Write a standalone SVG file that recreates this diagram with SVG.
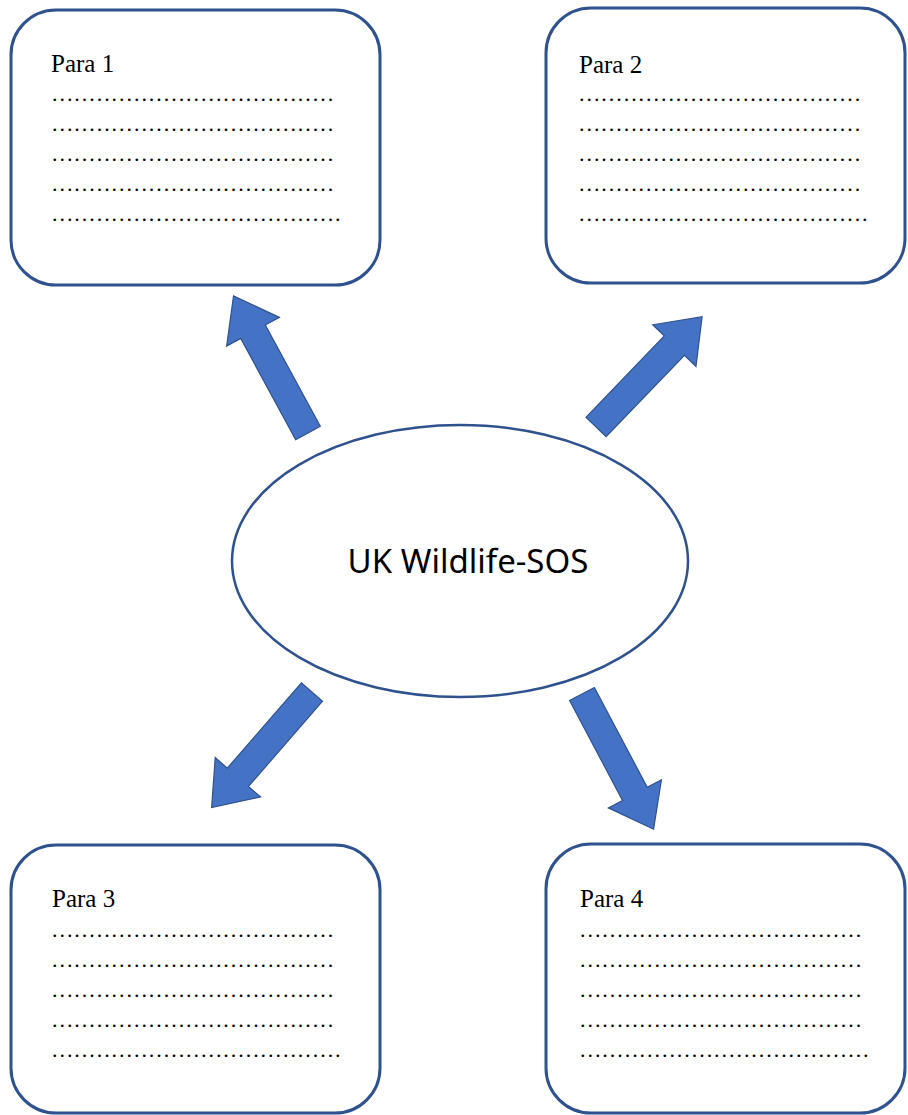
<svg xmlns="http://www.w3.org/2000/svg" width="908" height="1115" viewBox="0 0 908 1115">
<style>
.box{fill:#ffffff;stroke:#2F528F;stroke-width:3}
.hd{font-family:"Liberation Serif","Times New Roman",serif;font-size:25px;fill:#000}
.dots{font-family:"Liberation Serif","Times New Roman",serif;font-size:22px;letter-spacing:1.95px;fill:#000}
.arr{fill:#4472C4;stroke:#2F528F;stroke-width:1.2}
.ell{fill:#ffffff;stroke:#2F528F;stroke-width:2.5}
.title{font-family:"Noto Sans","Open Sans",sans-serif;font-size:33px;fill:#000}
</style>
<defs>
<path id="arrow" d="M0,-14 L113,-14 L113,-30 L153,0 L113,30 L113,14 L0,14 Z"/>
</defs>
<rect width="908" height="1115" fill="#ffffff"/>
<g id="connectors">
<use href="#arrow" class="arr" transform="translate(308,433) rotate(-118.5) scale(1.02,1)"/>
<use href="#arrow" class="arr" transform="translate(596,427) rotate(-46.1)"/>
<use href="#arrow" class="arr" transform="translate(312,692) rotate(131)"/>
<use href="#arrow" class="arr" transform="translate(582,694) rotate(62.1)"/>
</g>
<g id="center">
<ellipse class="ell" cx="460" cy="561" rx="228" ry="136"/>
<text class="title" x="468" y="573" text-anchor="middle">UK Wildlife-SOS</text>
</g>
<g id="para1">
<rect class="box" x="11" y="10" width="369" height="275" rx="45" ry="45"/>
<text class="hd" x="51" y="72">Para 1</text>
<text class="dots" x="52" y="101">......................................</text>
<text class="dots" x="52" y="131">......................................</text>
<text class="dots" x="52" y="161">......................................</text>
<text class="dots" x="52" y="191">......................................</text>
<text class="dots" x="52" y="221">.......................................</text>
</g>
<g id="para2">
<rect class="box" x="546" y="8" width="359" height="275" rx="45" ry="45"/>
<text class="hd" x="579" y="73">Para 2</text>
<text class="dots" x="579" y="101">......................................</text>
<text class="dots" x="579" y="131">......................................</text>
<text class="dots" x="579" y="161">......................................</text>
<text class="dots" x="579" y="191">......................................</text>
<text class="dots" x="579" y="221">.......................................</text>
</g>
<g id="para3">
<rect class="box" x="11" y="845" width="369" height="268" rx="45" ry="45"/>
<text class="hd" x="52" y="907">Para 3</text>
<text class="dots" x="52" y="937">......................................</text>
<text class="dots" x="52" y="967">......................................</text>
<text class="dots" x="52" y="997">......................................</text>
<text class="dots" x="52" y="1027">......................................</text>
<text class="dots" x="52" y="1057">.......................................</text>
</g>
<g id="para4">
<rect class="box" x="546" y="844" width="359" height="269" rx="45" ry="45"/>
<text class="hd" x="580" y="907">Para 4</text>
<text class="dots" x="580" y="937">......................................</text>
<text class="dots" x="580" y="967">......................................</text>
<text class="dots" x="580" y="997">......................................</text>
<text class="dots" x="580" y="1027">......................................</text>
<text class="dots" x="580" y="1057">.......................................</text>
</g>
</svg>
